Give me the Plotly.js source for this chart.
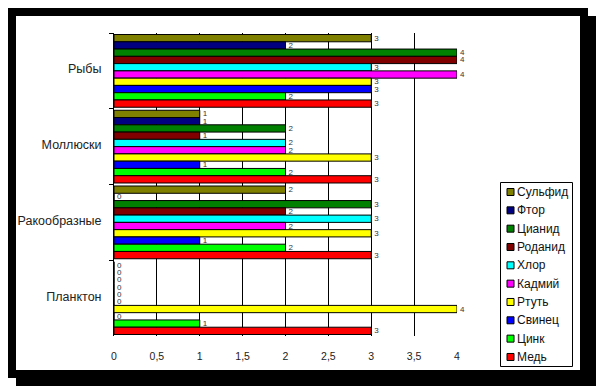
<!DOCTYPE html>
<html>
<head>
<meta charset="utf-8">
<script src="https://cdn.plot.ly/plotly-3.0.1.min.js"></script>
<style>
html,body{margin:0;padding:0;background:#fff;width:596px;height:387px;overflow:hidden;}
#frame{position:absolute;left:8px;top:8px;width:564px;height:354px;border:8px solid #000;background:#fff;box-shadow:8px 8px 0 0 #000;}
#chart{position:absolute;left:0;top:0;width:596px;height:387px;}
</style>
</head>
<body>
<div id="frame"></div>
<div id="chart"></div>
<script>
const categories = ['Рыбы', 'Моллюски', 'Ракообразные', 'Планктон'];
const seriesNames = ['Сульфид', 'Фтор', 'Цианид', 'Роданид', 'Хлор', 'Кадмий', 'Ртуть', 'Свинец', 'Цинк', 'Медь'];
const seriesColors = ['#808000', '#000080', '#008000', '#800000', '#00FFFF', '#FF00FF', '#FFFF00', '#0000FF', '#00FF00', '#FF0000'];
const sulfid   = [3, 1, 2, 0];
const ftor     = [2, 1, 0, 0];
const cianid   = [4, 2, 3, 0];
const rodanid  = [4, 1, 2, 0];
const hlor     = [3, 2, 3, 0];
const kadmiy   = [4, 2, 2, 0];
const rtut     = [3, 3, 3, 4];
const svinets  = [3, 1, 1, 0];
const tsink    = [2, 2, 2, 1];
const med      = [3, 3, 3, 3];
const seriesValues = [sulfid, ftor, cianid, rodanid, hlor, kadmiy, rtut, svinets, tsink, med];
const xTicks = [0, 0.5, 1, 1.5, 2, 2.5, 3, 3.5, 4];

const FONT = 'Liberation Sans, Arial, sans-serif';
const W = 596, H = 387;
const M = {l: 114, r: 139, t: 33, b: 51};
const PW = W - M.l - M.r, PH = H - M.t - M.b;
const px = x => (x - M.l) / PW;
const py = y => (H - M.b - y) / PH;

const traces = seriesNames.map((name, i) => ({
  type: 'bar',
  orientation: 'h',
  name: name,
  y: categories,
  x: seriesValues[i],
  text: seriesValues[i].map(String),
  textposition: 'outside',
  constraintext: 'none',
  cliponaxis: false,
  showlegend: false,
  textfont: {family: FONT, size: 8, color: '#333'},
  marker: {color: seriesColors[i], line: {color: '#000', width: 1}},
  hoverinfo: 'x+name'
}));

// custom legend (box, swatches, labels)
const shapes = [{
  type: 'rect', xref: 'paper', yref: 'paper',
  x0: px(500.5), x1: px(572.5), y0: py(182.5), y1: py(366.5),
  line: {color: '#000', width: 1}, fillcolor: '#fff', layer: 'above'
}];
const annotations = [];
seriesNames.forEach((name, i) => {
  const cy = 192 + i * 18.33;
  shapes.push({
    type: 'rect', xref: 'paper', yref: 'paper',
    x0: px(507), x1: px(514), y0: py(cy - 3.5), y1: py(cy + 3.5),
    line: {color: '#000', width: 1}, fillcolor: seriesColors[i], layer: 'above'
  });
  annotations.push({
    xref: 'paper', yref: 'paper', x: px(515), y: py(cy),
    xanchor: 'left', yanchor: 'middle', showarrow: false,
    text: name, font: {family: FONT, size: 12, color: '#111'}
  });
});

const layout = {
  width: W, height: H,
  margin: {l: M.l, r: M.r, t: M.t, b: M.b, autoexpand: false},
  paper_bgcolor: 'rgba(0,0,0,0)',
  plot_bgcolor: 'rgba(0,0,0,0)',
  separators: ', ',
  barmode: 'group',
  bargap: 0.04,
  bargroupgap: 0,
  font: {family: FONT, size: 11, color: '#222'},
  showlegend: false,
  shapes: shapes,
  annotations: annotations,
  xaxis: {
    range: [0, 4], tickvals: xTicks,
    showgrid: true, gridcolor: '#000', gridwidth: 1,
    zeroline: false, showline: false,
    ticks: 'outside', ticklen: 10, tickcolor: 'rgba(0,0,0,0)',
    tickfont: {size: 10.5, color: '#222'},
    fixedrange: true
  },
  yaxis: {
    type: 'category', autorange: 'reversed',
    showline: true, linecolor: '#000', linewidth: 1,
    ticks: 'outside', tickson: 'boundaries', ticklen: 4, tickcolor: '#000',
    ticklabelstandoff: 9,
    ticklabelshift: 2,
    showgrid: false, zeroline: false,
    tickfont: {size: 12.5, color: '#222'},
    fixedrange: true
  }
};

Plotly.newPlot('chart', traces, layout, {displayModeBar: false, staticPlot: true});
</script>
</body>
</html>
